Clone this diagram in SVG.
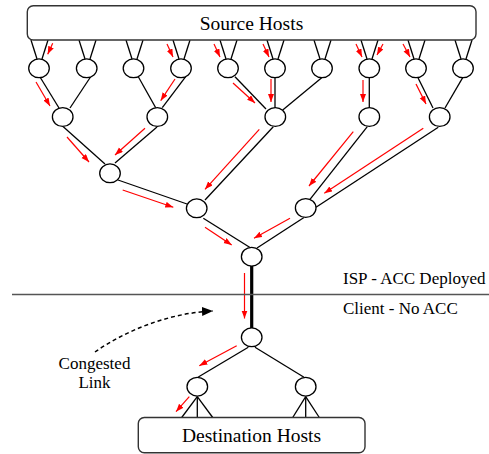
<svg xmlns="http://www.w3.org/2000/svg" width="489" height="454" viewBox="0 0 489 454">
<defs>
<style>
.e{stroke:#000;stroke-width:1.3;fill:none}
.t{stroke:#000;stroke-width:3.2;fill:none}
.r{stroke:#f00;stroke-width:1.2;fill:none;marker-end:url(#ra)}
.n{fill:#fff;stroke:#000;stroke-width:1.3}
.b{fill:#fff;stroke:#333;stroke-width:1.4}
text{font-family:'Liberation Serif','Times New Roman',serif;fill:#000}
</style>
<marker id="ra" markerUnits="userSpaceOnUse" markerWidth="9" markerHeight="7" refX="8" refY="3" orient="auto">
<path d="M0,0 L8,3 L0,6 z" fill="#f00"/>
</marker>
<marker id="ka" markerUnits="userSpaceOnUse" markerWidth="12" markerHeight="10" refX="11" refY="4.5" orient="auto">
<path d="M0,0 L11,4.5 L0,9 z" fill="#000"/>
</marker>
</defs>

<g id="connectors">
<g class="e">
<line x1="31" y1="40" x2="37" y2="59"/><line x1="48" y1="40" x2="42" y2="59"/>
<line x1="79" y1="40" x2="85" y2="59"/><line x1="96" y1="40" x2="90" y2="59"/>
<line x1="126" y1="40" x2="132" y2="59"/><line x1="143" y1="40" x2="137" y2="59"/>
<line x1="173" y1="40" x2="179" y2="59"/><line x1="190" y1="40" x2="184" y2="59"/>
<line x1="220" y1="40" x2="226" y2="59"/><line x1="237" y1="40" x2="231" y2="59"/>
<line x1="267" y1="40" x2="273" y2="59"/><line x1="284" y1="40" x2="278" y2="59"/>
<line x1="314" y1="40" x2="320" y2="59"/><line x1="331" y1="40" x2="325" y2="59"/>
<line x1="361" y1="40" x2="367" y2="59"/><line x1="378" y1="40" x2="372" y2="59"/>
<line x1="408" y1="40" x2="414" y2="59"/><line x1="425" y1="40" x2="419" y2="59"/>
<line x1="455" y1="40" x2="461" y2="59"/><line x1="472" y1="40" x2="466" y2="59"/>
<line x1="40" y1="77" x2="59" y2="108"/>
<line x1="90.5" y1="77" x2="70" y2="108"/>
<line x1="138.3" y1="76.7" x2="155.7" y2="107.7"/>
<line x1="185.7" y1="76.7" x2="162.3" y2="107.7"/>
<line x1="235" y1="76.7" x2="266" y2="109"/>
<line x1="275" y1="77" x2="275" y2="108"/>
<line x1="321.7" y1="77.7" x2="282.7" y2="110"/>
<line x1="369.3" y1="77" x2="369.3" y2="108"/>
<line x1="418" y1="77.7" x2="433" y2="108"/>
<line x1="462.7" y1="77.7" x2="445" y2="108"/>
<line x1="63" y1="126.5" x2="105" y2="164"/>
<line x1="157" y1="127" x2="115" y2="163"/>
<line x1="273.3" y1="126.7" x2="205" y2="200"/>
<line x1="367.3" y1="126.7" x2="310" y2="199.3"/>
<line x1="438.3" y1="127.3" x2="316" y2="207.3"/>
<line x1="118" y1="180" x2="187" y2="204"/>
<line x1="203.3" y1="218.3" x2="250" y2="247.5"/>
<line x1="304" y1="217.5" x2="257" y2="248"/>
<line x1="248.3" y1="347.3" x2="198.3" y2="377"/>
<line x1="255" y1="347.3" x2="304" y2="377.3"/>
<line x1="197.3" y1="396.7" x2="181.7" y2="417.5"/>
<line x1="197.3" y1="396.7" x2="197.3" y2="417.5"/>
<line x1="197.3" y1="396.7" x2="212.7" y2="417.5"/>
<line x1="305.7" y1="396.7" x2="292.7" y2="417.5"/>
<line x1="305.7" y1="396.7" x2="305.7" y2="417.5"/>
<line x1="305.7" y1="396.7" x2="319.3" y2="417.5"/>
</g>
<line class="t" x1="251.7" y1="266" x2="251.7" y2="328"/>

<g class="r">
<line x1="52.7" y1="43.3" x2="47.7" y2="54.3"/>
<line x1="167" y1="44" x2="173" y2="57"/>
<line x1="214" y1="44" x2="220" y2="57"/>
<line x1="263" y1="44" x2="269" y2="57"/>
<line x1="356" y1="44" x2="362" y2="57"/>
<line x1="383" y1="44" x2="377" y2="55"/>
<line x1="403" y1="44" x2="410" y2="57"/>
<line x1="36" y1="82" x2="50" y2="106"/>
<line x1="175" y1="79" x2="160.7" y2="100.7"/>
<line x1="233" y1="83" x2="255" y2="103"/>
<line x1="271" y1="79" x2="271" y2="102"/>
<line x1="363" y1="80" x2="363" y2="102"/>
<line x1="416" y1="84" x2="426" y2="104"/>
<line x1="67" y1="137" x2="89" y2="162"/>
<line x1="145" y1="128.3" x2="115" y2="155"/>
<line x1="259.3" y1="129.3" x2="205" y2="189.3"/>
<line x1="353.3" y1="131.7" x2="309" y2="186"/>
<line x1="423.3" y1="128.3" x2="324.3" y2="193.3"/>
<line x1="122.7" y1="190" x2="173.3" y2="207.3"/>
<line x1="205" y1="227.3" x2="231.7" y2="245"/>
<line x1="290" y1="218.3" x2="254" y2="238.3"/>
<line x1="244.5" y1="273" x2="244.5" y2="318.5"/>
<line x1="236.7" y1="345.7" x2="199.3" y2="365.7"/>
<line x1="189.3" y1="396.7" x2="176" y2="411.7"/>
</g>

<path d="M95,352 C125,331 168,313 213,311" fill="none" stroke="#000" stroke-width="1.5" stroke-dasharray="4,3" marker-end="url(#ka)"/>
</g>

<line x1="12" y1="294.5" x2="489" y2="294.5" stroke="#555" stroke-width="1.3"/>
<text x="343" y="284" font-size="17" font-family="'Liberation Serif','Times New Roman',serif">ISP - ACC Deployed</text>
<text x="343" y="314" font-size="17" font-family="'Liberation Serif','Times New Roman',serif">Client - No ACC</text>
<text x="94.5" y="369" font-size="17" text-anchor="middle" font-family="'Liberation Serif','Times New Roman',serif">Congested</text>
<text x="94.5" y="388" font-size="17" text-anchor="middle" font-family="'Liberation Serif','Times New Roman',serif">Link</text>

<g id="source-hosts">
<rect class="b" x="27.3" y="5.7" width="448.7" height="34.3" rx="6"/>
<text x="251.5" y="30" font-size="19.5" text-anchor="middle" font-family="'Liberation Serif','Times New Roman',serif">Source Hosts</text>
</g>
<g id="destination-hosts">
<rect class="b" x="138.3" y="417.5" width="226.7" height="35.2" rx="6"/>
<text x="251.5" y="442" font-size="19.5" text-anchor="middle" font-family="'Liberation Serif','Times New Roman',serif">Destination Hosts</text>
</g>

<g id="r1n1"><ellipse class="n" cx="39" cy="68.3" rx="10.3" ry="9.4"/></g>
<g id="r1n2"><ellipse class="n" cx="86.7" cy="68.3" rx="10.3" ry="9.4"/></g>
<g id="r1n3"><ellipse class="n" cx="133.5" cy="68.3" rx="10.3" ry="9.4"/></g>
<g id="r1n4"><ellipse class="n" cx="181" cy="68.3" rx="10.3" ry="9.4"/></g>
<g id="r1n5"><ellipse class="n" cx="228" cy="68.3" rx="10.3" ry="9.4"/></g>
<g id="r1n6"><ellipse class="n" cx="275" cy="68.3" rx="10.3" ry="9.4"/></g>
<g id="r1n7"><ellipse class="n" cx="322" cy="68.3" rx="10.3" ry="9.4"/></g>
<g id="r1n8"><ellipse class="n" cx="369.3" cy="68.3" rx="10.3" ry="9.4"/></g>
<g id="r1n9"><ellipse class="n" cx="416" cy="68.3" rx="10.3" ry="9.4"/></g>
<g id="r1n10"><ellipse class="n" cx="463" cy="68.3" rx="10.3" ry="9.4"/></g>

<g id="r2n1"><ellipse class="n" cx="62.7" cy="117" rx="10.3" ry="9.4"/></g>
<g id="r2n2"><ellipse class="n" cx="157.3" cy="117" rx="10.3" ry="9.4"/></g>
<g id="r2n3"><ellipse class="n" cx="275.3" cy="117" rx="10.3" ry="9.4"/></g>
<g id="r2n4"><ellipse class="n" cx="369.3" cy="117" rx="10.3" ry="9.4"/></g>
<g id="r2n5"><ellipse class="n" cx="439.7" cy="117" rx="10.3" ry="9.4"/></g>

<g id="r3n1"><ellipse class="n" cx="110" cy="173.3" rx="10.3" ry="9.4"/></g>
<g id="r4n1"><ellipse class="n" cx="196.7" cy="208.3" rx="10.3" ry="9.4"/></g>
<g id="r4n2"><ellipse class="n" cx="305.7" cy="208" rx="10.3" ry="9.4"/></g>
<g id="isp-edge"><ellipse class="n" cx="251.7" cy="256.7" rx="10.3" ry="9.4"/></g>
<g id="client-edge"><ellipse class="n" cx="251.7" cy="337.3" rx="10.3" ry="9.4"/></g>
<g id="client-left"><ellipse class="n" cx="197.3" cy="386.7" rx="10.3" ry="9.4"/></g>
<g id="client-right"><ellipse class="n" cx="305.7" cy="386.7" rx="10.3" ry="9.4"/></g>
</svg>
